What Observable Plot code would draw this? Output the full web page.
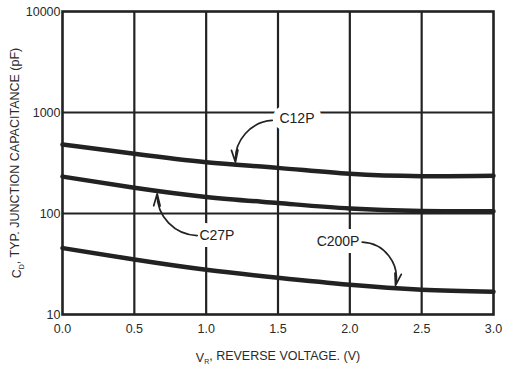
<!DOCTYPE html>
<html>
<head>
<meta charset="utf-8">
<script src="https://cdn.jsdelivr.net/npm/d3@7"></script>
<script src="https://cdn.jsdelivr.net/npm/@observablehq/plot@0.6"></script>
<style>
  html, body { margin: 0; padding: 0; background: #fff; }
  #chart { width: 516px; height: 369px; }
</style>
</head>
<body>
<div id="chart"></div>
<script>
// ---- data ----
const voltage = [0, 0.5, 1.0, 1.5, 2.0, 2.5, 3.0];
const c12p = [482, 390, 322, 283, 247, 234, 236];
const c27p = [232, 180, 146, 127, 112, 106, 105.5];
const c200p = [45.5, 35, 27.7, 23.1, 19.7, 17.6, 16.8];
const seriesNames = ["C12P", "C27P", "C200P"];
const xTicks = [0, 0.5, 1.0, 1.5, 2.0, 2.5, 3.0];
const yTicks = [10, 100, 1000, 10000];
const xLabel = "V_R, REVERSE VOLTAGE. (V)";
const yLabel = "C_D, TYP. JUNCTION CAPACITANCE (pF)";
// annotation anchors (data units)
const labelV = [1.632, 1.075, 1.918];
const labelC = [880, 60.5, 52.8];
const arrowV1 = [1.46, 0.9375, 2.086];
const arrowC1 = [834, 60.5, 52];
const arrowV2 = [1.204, 0.659, 2.318];
const arrowC2 = [322, 156.7, 19.4];
const arrowBend = [-45, 45, 50];

const ink = "#222";
const seriesValues = [c12p, c27p, c200p];
const rows = seriesNames.flatMap((name, i) =>
  voltage.map((v, j) => ({series: name, v, c: seriesValues[i][j]})));
const labels = seriesNames.map((name, i) => ({name, v: labelV[i], c: labelC[i]}));

const arrows = seriesNames.map((name, i) =>
  Plot.arrow([{x1: arrowV1[i], y1: arrowC1[i], x2: arrowV2[i], y2: arrowC2[i]}], {
    x1: "x1", y1: "y1", x2: "x2", y2: "y2",
    bend: arrowBend[i], stroke: ink, strokeWidth: 1.7,
    headLength: 11, headAngle: 30
  }));

const plot = Plot.plot({
  width: 516,
  height: 369,
  marginLeft: 62,
  marginRight: 23,
  marginTop: 11,
  marginBottom: 55,
  style: {fontFamily: "'Liberation Sans', Arial, sans-serif", fontSize: "12.5px", color: "#2a2a2a", background: "#fff"},
  x: {domain: [0, 3]},
  y: {type: "log", domain: [10, 10000]},
  marks: [
    Plot.ruleX(xTicks.slice(1, -1), {stroke: ink, strokeWidth: 2.2}),
    Plot.ruleY(yTicks.slice(1, -1), {stroke: ink, strokeWidth: 2.2}),
    Plot.frame({stroke: ink, strokeWidth: 2.6}),
    Plot.axisX({ticks: xTicks, tickFormat: d3.format(".1f"), tickSize: 0, tickPadding: 10,
      label: xLabel, labelAnchor: "center", labelArrow: "none", labelOffset: 47, fontSize: 12.5}),
    Plot.axisY({ticks: yTicks, tickFormat: d => String(d), tickSize: 0, tickPadding: 2,
      label: yLabel, labelAnchor: "center", labelArrow: "none", labelOffset: 50, fontSize: 12.5}),
    Plot.line(rows, {x: "v", y: "c", z: "series", curve: "natural", stroke: ink, strokeWidth: 4.5}),
    Plot.text(labels, {x: "v", y: "c", text: "name", fontSize: 14, fill: ink,
      stroke: "#fff", strokeWidth: 14, paintOrder: "stroke", strokeLinejoin: "miter"}),
    ...arrows
  ]
});
document.getElementById("chart").appendChild(plot);

// subscripts in the axis labels
function subscriptLabel(full, main, sub, rest) {
  d3.select(plot).selectAll("text").filter(function() { return this.textContent.includes(full); })
    .each(function() {
      const t = d3.select(this);
      t.text("");
      t.append("tspan").text(main);
      t.append("tspan").attr("font-size", "7px").attr("dy", "0.35em").text(sub);
      t.append("tspan").attr("dy", "-0.35em").text(rest);
    });
}
subscriptLabel(xLabel, "V", "R", ", REVERSE VOLTAGE. (V)");
subscriptLabel(yLabel, "C", "D", ", TYP. JUNCTION CAPACITANCE (pF)");
</script>
</body>
</html>
